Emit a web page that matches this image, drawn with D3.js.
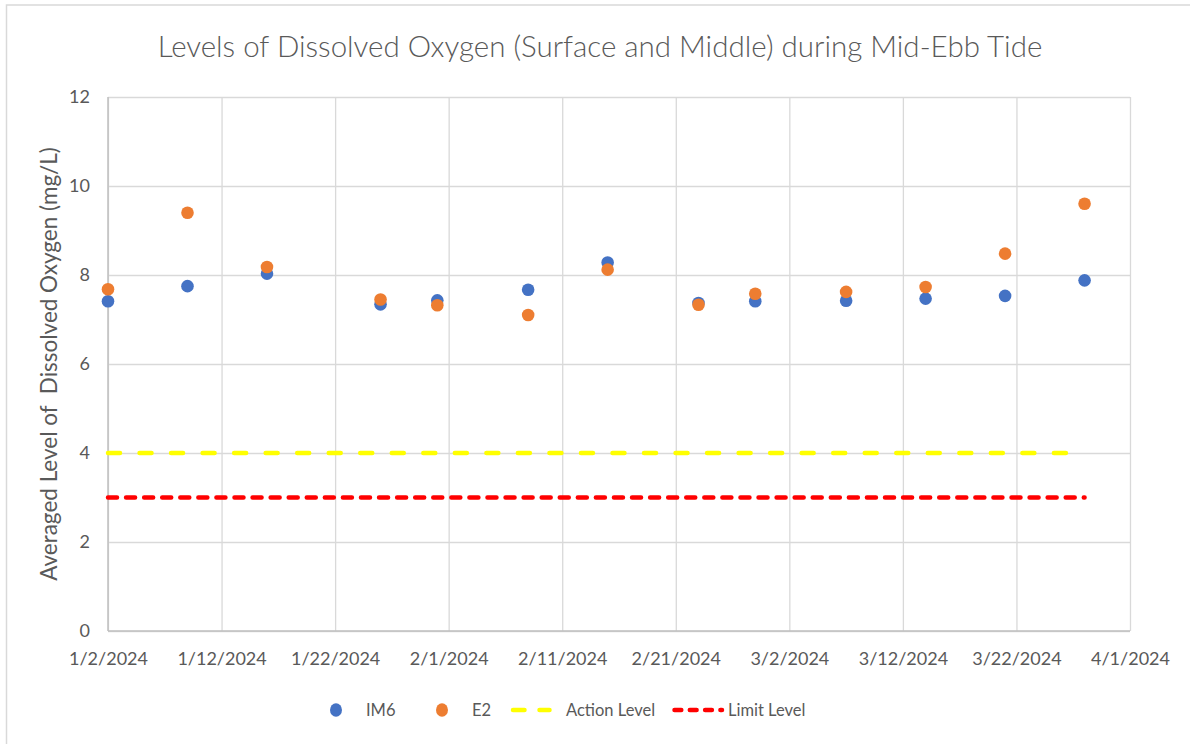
<!DOCTYPE html>
<html>
<head>
<meta charset="utf-8">
<script src="https://cdn.jsdelivr.net/npm/d3@7"></script>
<style>
  body { margin: 0; background: #fff; }
  text { font-family: Lato, "Open Sans", sans-serif; fill: #595959; }
  .grid line { stroke: #d9d9d9; stroke-width: 1.3; }
  .tick text { font-size: 18px; }
</style>
</head>
<body>
<div id="chart"></div>
<script>
var width = 1190, height = 744;
var margin = {top: 97, right: 60, bottom: 113, left: 108};

// sampling dates
var dates = ["2024-01-02","2024-01-09","2024-01-16","2024-01-26","2024-01-31","2024-02-08",
  "2024-02-15","2024-02-23","2024-02-28","2024-03-07","2024-03-14","2024-03-21","2024-03-28"];
var im6 = [7.41, 7.75, 8.03, 7.34, 7.43, 7.67, 8.28, 7.37, 7.41, 7.42, 7.47, 7.53, 7.88];
var e2  = [7.68, 9.40, 8.18, 7.45, 7.32, 7.10, 8.12, 7.33, 7.58, 7.62, 7.73, 8.48, 9.60];
var actionLevel = 4;
var limitLevel = 3;
var yTicks = [0, 2, 4, 6, 8, 10, 12];
var xTickDates = ["2024-01-02","2024-01-12","2024-01-22","2024-02-01","2024-02-11",
  "2024-02-21","2024-03-02","2024-03-12","2024-03-22","2024-04-01"];

var parse = d3.timeParse("%Y-%m-%d");
var fmtDate = function(d){ return (d.getMonth()+1) + "/" + d.getDate() + "/" + d.getFullYear(); };

var xScale = d3.scaleTime()
    .domain([parse("2024-01-02"), parse("2024-04-01")])
    .range([margin.left, width - margin.right]);

var yScale = d3.scaleLinear()
    .domain([0, 12])
    .range([height - margin.bottom, margin.top]);

var svg = d3.select("#chart").append("svg")
  .attr("width", width)
  .attr("height", height)
  .style("display", "block");

// chart border
svg.append("path")
  .attr("d", "M6.5," + height + " V5 H" + width)
  .style("fill", "none")
  .style("stroke", "#d9d9d9")
  .style("stroke-width", 1.5);

// title
svg.append("text")
  .attr("x", 600)
  .attr("y", 57)
  .attr("text-anchor", "middle")
  .style("font-size", "29.5px")
  .style("font-weight", 300)
  .text("Levels of Dissolved Oxygen (Surface and Middle) during Mid-Ebb Tide");

// horizontal grid + y labels
svg.append("g")
  .attr("class", "grid")
  .attr("transform", "translate(" + margin.left + ",0)")
  .call(d3.axisLeft(yScale)
    .tickValues(yTicks)
    .tickSize(-(width - margin.left - margin.right))
    .tickPadding(18))
  .call(g => g.select(".domain").remove());

// vertical grid + x labels
svg.append("g")
  .attr("class", "grid")
  .attr("transform", "translate(0," + (height - margin.bottom) + ")")
  .call(d3.axisBottom(xScale)
    .tickValues(xTickDates.map(parse))
    .tickFormat(fmtDate)
    .tickSize(-(height - margin.top - margin.bottom))
    .tickPadding(21))
  .call(g => g.select(".domain").remove());

// axis lines
svg.append("line")
  .attr("x1", margin.left).attr("x2", width - margin.right)
  .attr("y1", yScale(0)).attr("y2", yScale(0))
  .style("stroke", "#bfbfbf").style("stroke-width", 1.5);
svg.append("line")
  .attr("x1", margin.left).attr("x2", margin.left)
  .attr("y1", yScale(0)).attr("y2", yScale(12))
  .style("stroke", "#bfbfbf").style("stroke-width", 1.5);

// y axis title
svg.append("text")
  .attr("transform", "translate(57," + ((yScale(0) + yScale(12)) / 2) + ") rotate(-90)")
  .attr("text-anchor", "middle")
  .style("font-size", "22.5px")
  .style("white-space", "pre")
  .text("Averaged Level of  Dissolved Oxygen (mg/L)");

var first = parse(dates[0]), last = parse(dates[dates.length - 1]);

// action / limit lines
svg.append("line")
  .attr("x1", xScale(first)).attr("x2", xScale(last))
  .attr("y1", yScale(actionLevel)).attr("y2", yScale(actionLevel))
  .style("stroke", "#ffff00").style("stroke-width", 4.5)
  .style("stroke-linecap", "round")
  .style("stroke-dasharray", "12,19.53");

svg.append("line")
  .attr("x1", xScale(first)).attr("x2", xScale(last))
  .attr("y1", yScale(limitLevel)).attr("y2", yScale(limitLevel))
  .style("stroke", "#ff0000").style("stroke-width", 4.5)
  .style("stroke-linecap", "round")
  .style("stroke-dasharray", "9,9.07");

// points
var series = [
  {name: "IM6", values: im6, color: "#4472c4"},
  {name: "E2", values: e2, color: "#ed7d31"}
];

series.forEach(function(s){
  svg.append("g").selectAll("circle")
    .data(s.values)
    .enter()
    .append("circle")
    .attr("cx", function(d, i){ return xScale(parse(dates[i])); })
    .attr("cy", function(d){ return yScale(d); })
    .attr("r", 6.3)
    .style("fill", s.color);
});

// legend
var ly = 710;
var legend = svg.append("g");
legend.append("ellipse").attr("cx", 336).attr("cy", ly).attr("rx", 6).attr("ry", 6.8).style("fill", "#4472c4");
legend.append("text").attr("x", 366).attr("y", ly + 6).style("font-size", "16.5px").text("IM6");
legend.append("ellipse").attr("cx", 442).attr("cy", ly).attr("rx", 6).attr("ry", 6.8).style("fill", "#ed7d31");
legend.append("text").attr("x", 472).attr("y", ly + 6).style("font-size", "16.5px").text("E2");
legend.append("line").attr("x1", 513).attr("x2", 549.5).attr("y1", ly).attr("y2", ly)
  .style("stroke", "#ffff00").style("stroke-width", 4.5).style("stroke-linecap", "round")
  .style("stroke-dasharray", "11.5,15");
legend.append("text").attr("x", 566).attr("y", ly + 6).style("font-size", "16.5px").text("Action Level");
legend.append("line").attr("x1", 674.5).attr("x2", 722).attr("y1", ly).attr("y2", ly)
  .style("stroke", "#ff0000").style("stroke-width", 4.5).style("stroke-linecap", "round")
  .style("stroke-dasharray", "6.8,8.5");
legend.append("text").attr("x", 728).attr("y", ly + 6).style("font-size", "16.5px").text("Limit Level");
</script>
</body>
</html>
